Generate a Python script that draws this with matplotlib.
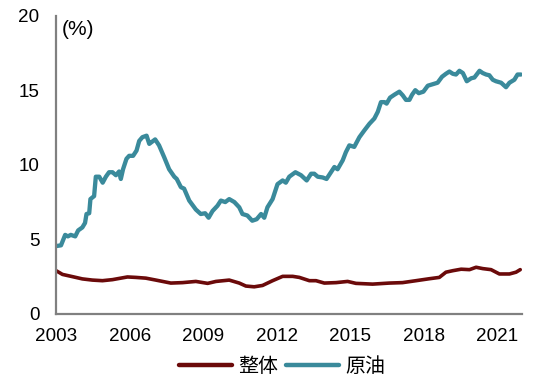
import matplotlib
matplotlib.use("Agg")
import matplotlib.pyplot as plt

plt.rcParams['font.family'] = ['Liberation Sans', 'Noto Sans CJK SC', 'DejaVu Sans']

# 原油 (crude oil) series: (year, %)
oil_years = [2003.0, 2003.2, 2003.37, 2003.48, 2003.6, 2003.78, 2003.9, 2004.07, 2004.18, 2004.24,
             2004.35, 2004.4, 2004.55, 2004.62, 2004.76, 2004.9, 2005.03, 2005.16, 2005.3, 2005.44,
             2005.57, 2005.64, 2005.73, 2005.87, 2005.98, 2006.14, 2006.28, 2006.39, 2006.52, 2006.69,
             2006.8, 2006.88, 2007.04, 2007.2, 2007.41, 2007.61, 2007.82, 2007.92, 2008.09, 2008.22,
             2008.43, 2008.7, 2008.9, 2009.08, 2009.22, 2009.38, 2009.58, 2009.72, 2009.9, 2010.06,
             2010.27, 2010.47, 2010.6, 2010.8, 2011.0, 2011.18, 2011.36, 2011.49, 2011.62, 2011.83,
             2012.03, 2012.24, 2012.37, 2012.51, 2012.76, 2012.99, 2013.22, 2013.4, 2013.53, 2013.67,
             2013.87, 2014.03, 2014.21, 2014.35, 2014.48, 2014.69, 2014.82, 2014.96, 2015.16, 2015.37,
             2015.57, 2015.78, 2015.98, 2016.12, 2016.25, 2016.39, 2016.48, 2016.62, 2016.8, 2017.0,
             2017.14, 2017.27, 2017.41, 2017.52, 2017.65, 2017.79, 2017.98, 2018.16, 2018.36, 2018.56,
             2018.74, 2018.9, 2019.04, 2019.18, 2019.31, 2019.45, 2019.59, 2019.75, 2019.93, 2020.06,
             2020.27, 2020.4, 2020.54, 2020.67, 2020.81, 2020.94, 2021.15, 2021.35, 2021.49, 2021.69,
             2021.82, 2021.96]
oil_values = [4.55, 4.6, 5.3, 5.2, 5.3, 5.2, 5.6, 5.8, 6.1, 6.7,
              6.75, 7.7, 7.9, 9.2, 9.2, 8.8, 9.2, 9.5, 9.5, 9.3,
              9.55, 9.05, 9.7, 10.4, 10.6, 10.6, 10.95, 11.6, 11.85, 11.95,
              11.4, 11.5, 11.7, 11.3, 10.5, 9.7, 9.2, 9.05, 8.5, 8.4,
              7.6, 7.0, 6.7, 6.75, 6.45, 6.9, 7.25, 7.6, 7.5, 7.7,
              7.5, 7.15, 6.7, 6.6, 6.25, 6.35, 6.7, 6.45, 7.15, 7.7,
              8.7, 8.95, 8.8, 9.2, 9.5, 9.3, 8.95, 9.4, 9.4, 9.2,
              9.15, 9.05, 9.5, 9.85, 9.7, 10.3, 10.85, 11.3, 11.2, 11.85,
              12.3, 12.75, 13.1, 13.55, 14.2, 14.2, 14.1, 14.5, 14.7, 14.9,
              14.65, 14.35, 14.35, 14.7, 15.0, 14.8, 14.9, 15.3, 15.4, 15.5,
              15.9, 16.1, 16.25, 16.1, 16.05, 16.3, 16.15, 15.6, 15.8, 15.85,
              16.3, 16.15, 16.05, 16.0, 15.7, 15.6, 15.5, 15.2, 15.5, 15.7,
              16.05, 16.05]

# 整体 (overall) series: (year, %)
all_years = [2003.0, 2003.26, 2003.67, 2004.07, 2004.48, 2004.89, 2005.3, 2005.91, 2006.25, 2006.66,
             2007.07, 2007.68, 2008.16, 2008.7, 2009.18, 2009.52, 2010.06, 2010.47, 2010.74, 2011.08,
             2011.42, 2011.83, 2012.24, 2012.65, 2012.92, 2013.33, 2013.6, 2013.94, 2014.42, 2014.89,
             2015.23, 2015.91, 2016.59, 2017.13, 2017.68, 2018.22, 2018.63, 2018.9, 2019.18, 2019.52,
             2019.86, 2020.13, 2020.4, 2020.74, 2021.08, 2021.49, 2021.76, 2021.93]
all_values = [2.9, 2.65, 2.5, 2.35, 2.27, 2.23, 2.3, 2.48, 2.45, 2.4,
              2.27, 2.07, 2.1, 2.18, 2.05, 2.18, 2.27, 2.07, 1.87, 1.82,
              1.91, 2.23, 2.52, 2.52, 2.45, 2.23, 2.23, 2.07, 2.1, 2.18,
              2.05, 2.0, 2.07, 2.1, 2.23, 2.36, 2.45, 2.8, 2.9, 3.0,
              2.97, 3.13, 3.04, 2.97, 2.68, 2.68, 2.8, 2.97]

x_ticks = [2003, 2006, 2009, 2012, 2015, 2018, 2021]
y_ticks = [0, 5, 10, 15, 20]
labels = ['整体', '原油']
colors = ['#6B0A0A', '#3A8A9B']

fig = plt.figure(figsize=(5.5, 3.9), dpi=100)
ax = fig.add_axes([0.102, 0.195, 0.847, 0.765])

ax.plot(all_years, all_values, color=colors[0], lw=2.6, label=labels[0], solid_capstyle='round')
ax.plot(oil_years, oil_values, color=colors[1], lw=3.1, label=labels[1], solid_capstyle='round')

ax.set_xlim(2003, 2022)
ax.set_ylim(0, 20)
ax.set_xticks(x_ticks)
ax.set_xticklabels([str(t) for t in x_ticks])
ax.set_yticks(y_ticks)
ax.tick_params(axis='both', length=0, labelsize=13.6)
ax.tick_params(axis='y', pad=12)
ax.tick_params(axis='x', pad=10)

for s in ['top', 'right']:
    ax.spines[s].set_visible(False)
for s in ['left', 'bottom']:
    ax.spines[s].set_color('#808080')
    ax.spines[s].set_linewidth(1.6)

ax.text(0.012, 0.985, '(%)', transform=ax.transAxes, fontsize=15, va='top', ha='left')

leg = fig.legend(loc='center', bbox_to_anchor=(0.513, 0.06), ncol=2, frameon=False,
                 fontsize=14.4, handlelength=2.65, handletextpad=0.3, columnspacing=0.4)
for h in leg.get_lines():
    h.set_linewidth(3.2)

fig.savefig('out.png', dpi=100)
